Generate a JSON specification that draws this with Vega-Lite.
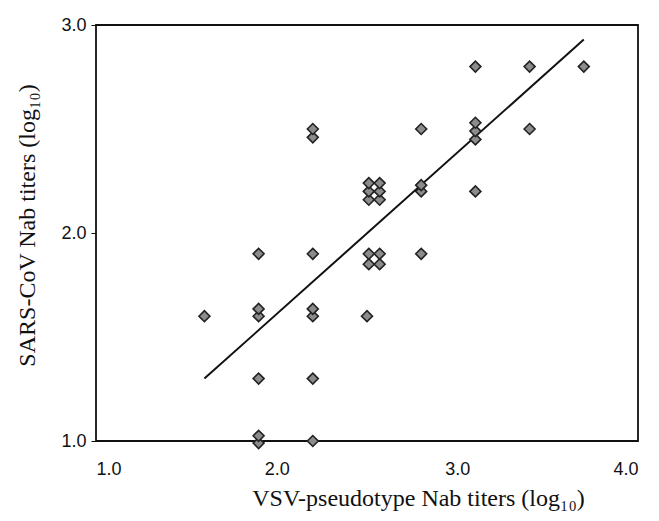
{
  "$schema": "https://vega.github.io/schema/vega-lite/v6.json",
  "width": 542,
  "height": 416,
  "autosize": {"type": "none"},
  "padding": {"left": 96, "top": 25, "right": 21, "bottom": 80},
  "background": "white",
  "config": {
    "view": {"stroke": "#111", "strokeWidth": 1.8},
    "axis": {
      "grid": false,
      "domain": false,
      "labelFont": "Liberation Sans",
      "labelFontSize": 18,
      "labelColor": "#111",
      "titleFont": "Liberation Serif",
      "titleFontSize": 24,
      "titleFontWeight": "normal",
      "titleColor": "#111",
      "tickColor": "#111"
    }
  },
  "datasets": {
    "pts": [
      {"x": 1.6, "y": 1.6},
      {"x": 1.9, "y": 0.99}, {"x": 1.9, "y": 1.025},
      {"x": 1.9, "y": 1.3},
      {"x": 1.9, "y": 1.6}, {"x": 1.9, "y": 1.635},
      {"x": 1.9, "y": 1.9},
      {"x": 2.2, "y": 1.0},
      {"x": 2.2, "y": 1.3},
      {"x": 2.2, "y": 1.6}, {"x": 2.2, "y": 1.635},
      {"x": 2.2, "y": 1.9},
      {"x": 2.2, "y": 2.46}, {"x": 2.2, "y": 2.5},
      {"x": 2.5, "y": 1.6},
      {"x": 2.51, "y": 1.85}, {"x": 2.57, "y": 1.85}, {"x": 2.51, "y": 1.9}, {"x": 2.57, "y": 1.9},
      {"x": 2.51, "y": 2.16}, {"x": 2.57, "y": 2.16}, {"x": 2.51, "y": 2.2}, {"x": 2.57, "y": 2.2}, {"x": 2.51, "y": 2.24}, {"x": 2.57, "y": 2.24},
      {"x": 2.8, "y": 1.9},
      {"x": 2.8, "y": 2.2}, {"x": 2.8, "y": 2.23},
      {"x": 2.8, "y": 2.5},
      {"x": 3.1, "y": 2.2},
      {"x": 3.1, "y": 2.45}, {"x": 3.1, "y": 2.49}, {"x": 3.1, "y": 2.53},
      {"x": 3.1, "y": 2.8},
      {"x": 3.4, "y": 2.5},
      {"x": 3.4, "y": 2.8},
      {"x": 3.7, "y": 2.8}
    ],
    "fit": [
      {"x": 1.6, "y": 1.3},
      {"x": 3.7, "y": 2.93}
    ]
  },
  "layer": [
    {
      "data": {"name": "fit"},
      "mark": {"type": "line", "color": "#111", "strokeWidth": 2},
      "encoding": {
        "x": {"field": "x", "type": "quantitative"},
        "y": {"field": "y", "type": "quantitative"}
      }
    },
    {
      "data": {"name": "pts"},
      "mark": {"type": "point", "shape": "diamond", "filled": true, "fill": "#8c8c8c", "stroke": "#222", "strokeWidth": 1.6, "size": 120, "opacity": 1},
      "encoding": {
        "x": {
          "field": "x", "type": "quantitative",
          "scale": {"domain": [1, 4], "nice": false, "zero": false},
          "axis": {"values": [1, 2, 3, 4], "format": ".1f", "tickSize": 0, "labelPadding": 19, "title": "VSV-pseudotype Nab titers (log₁₀)", "titlePadding": 8, "titleX": 322}
        },
        "y": {
          "field": "y", "type": "quantitative",
          "scale": {"domain": [1, 3], "nice": false, "zero": false},
          "axis": {"values": [1, 2, 3], "format": ".1f", "tickSize": 5, "labelPadding": 5, "title": "SARS-CoV Nab titers (log₁₀)", "titleX": -57, "titleY": 200}
        }
      }
    }
  ]
}
